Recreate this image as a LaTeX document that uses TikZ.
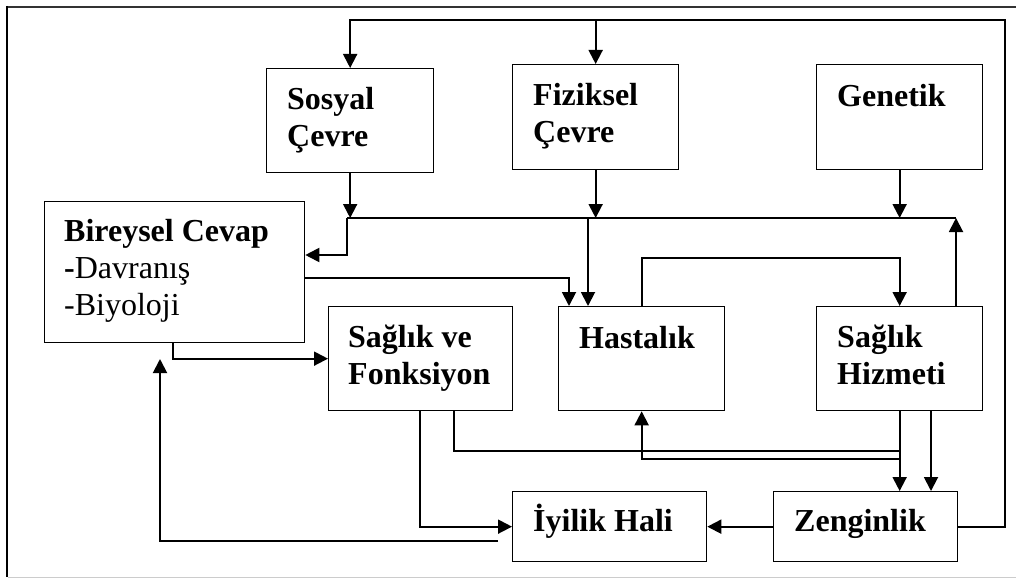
\documentclass[tikz,border=0pt]{standalone}
\usepackage{fontspec}
\setmainfont{Liberation Serif}
\usetikzlibrary{arrows.meta,calc}

\begin{document}
\begin{tikzpicture}[x=1pt,y=-1pt,
  box/.style={draw,line width=1.3pt,rectangle,inner sep=0pt,anchor=north west},
  lbl/.style={anchor=base west,inner sep=0pt,font=\fontsize{32}{37}\selectfont},
  conn/.style={line width=1.9pt},
  arr/.style={conn,-{Triangle[length=14pt,width=14pt]}}]

% page frame
\useasboundingbox (0,0) rectangle (1016,578);
\draw[line width=1.2pt,black!80] (6,7) -- (1016,7);
\draw[line width=2pt] (7,6) -- (7,577);
\draw[line width=1pt,black!20] (8,577) -- (1016,577);

% boxes
\node[box,minimum width=167pt,minimum height=104pt] (sosyal)    at (266,68)  {};
\node[box,minimum width=166pt,minimum height=105pt] (fiziksel)  at (512,64)  {};
\node[box,minimum width=166pt,minimum height=105pt] (genetik)   at (816,64)  {};
\node[box,minimum width=260pt,minimum height=141pt] (bireysel)  at (44,201)  {};
\node[box,minimum width=184pt,minimum height=104pt] (saglik)    at (328,306) {};
\node[box,minimum width=166pt,minimum height=104pt] (hastalik)  at (558,306) {};
\node[box,minimum width=166pt,minimum height=104pt] (hizmet)    at (816,306) {};
\node[box,minimum width=194pt,minimum height=70pt]  (iyilik)    at (512,491) {};
\node[box,minimum width=184pt,minimum height=70pt]  (zenginlik) at (773,491) {};

% box texts
\node[lbl] (sosyal-t)    at ($(sosyal.north west)+(21,41)$)    {\parbox[t]{150pt}{\bfseries Sosyal\\Çevre}};
\node[lbl] (fiziksel-t)  at ($(fiziksel.north west)+(21,41)$)  {\parbox[t]{150pt}{\bfseries Fiziksel\\Çevre}};
\node[lbl] (genetik-t)   at ($(genetik.north west)+(21,42)$)   {\parbox[t]{150pt}{\bfseries Genetik}};
\node[lbl] (bireysel-t)  at ($(bireysel.north west)+(20,40)$)  {\parbox[t]{240pt}{\textbf{Bireysel Cevap}\\\textbf{-}Davranış\\-Biyoloji}};
\node[lbl] (saglik-t)    at ($(saglik.north west)+(20,41)$)    {\parbox[t]{170pt}{\bfseries Sağlık ve\\Fonksiyon}};
\node[lbl] (hastalik-t)  at ($(hastalik.north west)+(21,42)$)  {\parbox[t]{150pt}{\bfseries Hastalık}};
\node[lbl] (hizmet-t)    at ($(hizmet.north west)+(21,41)$)    {\parbox[t]{150pt}{\bfseries Sağlık\\Hizmeti}};
\node[lbl] (iyilik-t)    at ($(iyilik.north west)+(21,40)$)    {\parbox[t]{180pt}{\bfseries İyilik Hali}};
\node[lbl] (zenginlik-t) at ($(zenginlik.north west)+(21,40)$) {\parbox[t]{170pt}{\bfseries Zenginlik}};

% routing points
\coordinate (tr)   at (1005,20);
\coordinate (busL) at (347,218);
\coordinate (busR) at (956,218);
\coordinate (bk)   at (347,255);
\coordinate (hb)   at (588,218);
\coordinate (bh)   at (569,278);
\coordinate (bf)   at (173,342);
\coordinate (sf1)  at (420,410);
\coordinate (sf2)  at (454,410);
\coordinate (jn)   at (899,451);
\coordinate (hs)   at (899,459);
\coordinate (hz2)  at (931,410);
\coordinate (ib)   at (498,541);
\coordinate (ibt)  at (160,359);

% wealth loops back to the environment
\draw[arr] (zenginlik.east) -| (tr) -| (sosyal.north);
\draw[arr] (fiziksel.north |- tr) -- (fiziksel.north);

% common bus below the top row
\draw[conn] (busL) -- (busR);
\draw[arr] (sosyal.south) -- (sosyal.south |- busL);
\draw[arr] (fiziksel.south) -- (fiziksel.south |- busL);
\draw[arr] (genetik.south) -- (genetik.south |- busL);
\draw[arr] (hizmet.north -| busR) -- (busR);
\draw[arr] (busL) -- (bk) -- (bk -| bireysel.east);
\draw[arr] (hb) -- (hb |- hastalik.north);

% individual response
\draw[arr] (bh -| bireysel.east) -- (bh) -- (bh |- hastalik.north);
\draw[arr] (bf) |- (saglik.west);

% disease and health care
\draw[arr] (hastalik.north) -- ++(0,-48) -| (hizmet.north);
\draw[arr] (hizmet.south) -- (hizmet.south |- zenginlik.north);
\draw[arr] (hz2) -- (hz2 |- zenginlik.north);
\draw[arr] (hs) -| (hastalik.south);

% health and function
\draw[arr] (sf1) |- (iyilik.west);
\draw[conn] (sf2) |- (jn);

% wealth and well-being
\draw[arr] (zenginlik.west) -- (iyilik.east);
\draw[arr] (ib) -| (ibt);
\end{tikzpicture}
\end{document}
